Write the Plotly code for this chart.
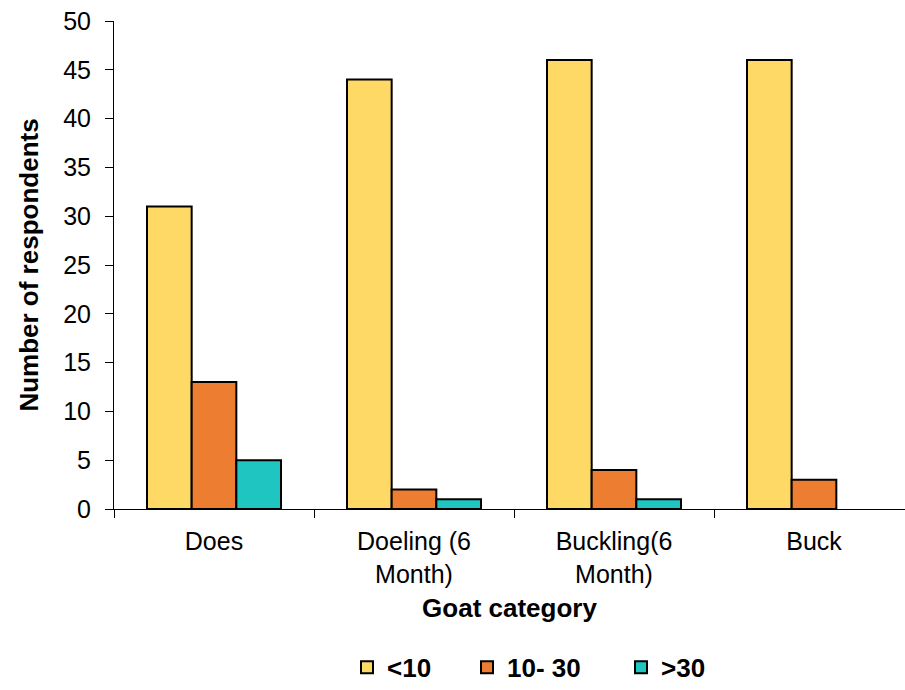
import plotly.graph_objects as go

categories = ["Does", "Doeling (6<br>Month)", "Buckling(6<br>Month)", "Buck"]
series_names = ["<10", "10- 30", ">30"]
under_10 = [31, 44, 46, 46]
from_10_to_30 = [13, 2, 4, 3]
over_30 = [5, 1, 1, None]  # no >30 respondents for bucks, so no bar is drawn
colors = ["#FFD966", "#ED7D31", "#1FC5C0"]

font_family = "Liberation Sans, Arial, sans-serif"
legend_ids = ["legend", "legend2", "legend3"]
legend_left_px = [347, 467, 621]

fig = go.Figure()
for name, vals, col, lg in zip(series_names, [under_10, from_10_to_30, over_30], colors, legend_ids):
    fig.add_trace(go.Bar(
        x=categories, y=vals, name=name, legend=lg,
        marker=dict(color=col, line=dict(color="#000000", width=2)),
    ))

legend_style = dict(
    orientation="h", xref="container", xanchor="left",
    yref="container", y=0.033, yanchor="middle",
    font=dict(size=26, family=font_family, weight="bold"),
    bgcolor="rgba(0,0,0,0)",
)
legend_layout = {
    lg: dict(legend_style, x=px / 905) for lg, px in zip(legend_ids, legend_left_px)
}

fig.update_layout(
    width=905, height=690,
    margin=dict(l=114, r=0, t=21, b=181, autoexpand=False),
    paper_bgcolor="white", plot_bgcolor="white",
    barmode="group", bargap=0.33, bargroupgap=0,
    font=dict(family=font_family, color="#000000", size=25),
    showlegend=True,
    **legend_layout,
    xaxis=dict(
        type="category",
        range=[-0.5, 3.455],
        showline=True, linecolor="#000000", linewidth=1,
        ticks="outside", tickson="boundaries", ticklen=8, tickcolor="#000000",
        tickfont=dict(size=25), ticklabelstandoff=10,
        title=dict(text="<b>Goat category</b>", font=dict(size=26), standoff=12),
        showgrid=False, automargin=False,
    ),
    yaxis=dict(
        range=[0, 50], dtick=5,
        showline=True, linecolor="#000000", linewidth=1,
        ticks="outside", ticklen=8, tickcolor="#000000",
        tickfont=dict(size=25), ticklabelstandoff=9,
        title=dict(text="<b>Number of respondents</b>", font=dict(size=26), standoff=17),
        showgrid=False, zeroline=False, automargin=False,
    ),
)

fig.write_html("out.html")
